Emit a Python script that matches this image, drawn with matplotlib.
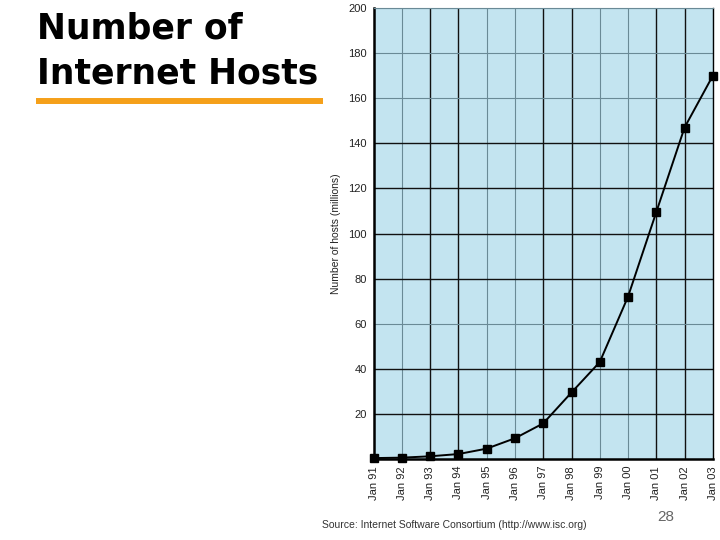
import matplotlib
matplotlib.use('Agg')
from matplotlib import pyplot as plt

# data (millions of hosts, January of each year)
years = ['91', '92', '93', '94', '95', '96', '97', '98', '99', '00', '01', '02', '03']
hosts = [0.4, 0.6, 1.2, 2.2, 4.6, 9.2, 15.8, 29.5, 43.0, 72.0, 109.5, 147.0, 170.0]
y_ticks = [20, 40, 60, 80, 100, 120, 140, 160, 180, 200]

# which grid lines come out dark in the scan
dark_x = ['93', '94', '97', '98', '01', '02']
dark_y = [20, 40, 80, 100, 120, 140]

plt.rcParams['font.family'] = ['Liberation Sans', 'DejaVu Sans']

fig = plt.figure(figsize=(7.2, 5.4), dpi=100)
ax = fig.add_axes([0.519, 0.15, 0.471, 0.835])
ax.set_facecolor('#c3e4f0')

x = list(range(len(years)))
for i, yr in enumerate(years):
	if yr in dark_x:
		ax.axvline(i, color='#111111', lw=1.0, zorder=1)
	else:
		ax.axvline(i, color='#6a8a96', lw=0.8, zorder=1)
for v in y_ticks:
	if v in dark_y:
		ax.axhline(v, color='#111111', lw=1.0, zorder=1)
	else:
		ax.axhline(v, color='#6a8a96', lw=0.8, zorder=1)

ax.plot(x, hosts, '-', color='black', lw=1.4, marker='s', ms=5.5, zorder=3, clip_on=False)

ax.set_xlim(0, len(years) - 1)
ax.set_ylim(0, 200)
ax.set_xticks(x)
ax.set_xticklabels(['Jan ' + y for y in years], rotation=90, fontsize=8, color='#222222')
ax.set_yticks(y_ticks)
ax.set_yticklabels([str(v) for v in y_ticks], fontsize=8, color='#222222')
ax.tick_params(length=0, pad=5)
ax.set_ylabel('Number of hosts (millions)', fontsize=7.5, color='#222222', labelpad=5)

for s in ['left', 'bottom']:
	ax.spines[s].set_linewidth(1.8)
	ax.spines[s].set_color('black')
ax.spines['right'].set_linewidth(1.0)
ax.spines['top'].set_linewidth(0.8)
ax.spines['top'].set_color('#6a8a96')

# title: wide heavy face, one text per line
fig.text(0.052, 0.929, 'Number of', fontsize=24.9, fontweight='bold',
	family='DejaVu Sans', va='baseline', ha='left')
fig.text(0.052, 0.845, 'Internet Hosts', fontsize=24.9, fontweight='bold',
	family='DejaVu Sans', va='baseline', ha='left')
fig.add_artist(plt.Line2D([0.05, 0.449], [0.813, 0.813], color='#f5a01a', lw=4.3,
	solid_capstyle='butt'))

fig.text(0.447, 0.022, 'Source: Internet Software Consortium (http://www.isc.org)',
	fontsize=7.5, color='#333333')
fig.text(0.913, 0.035, '28', fontsize=11, color='#666666')

plt.savefig('out.png', dpi=100)
